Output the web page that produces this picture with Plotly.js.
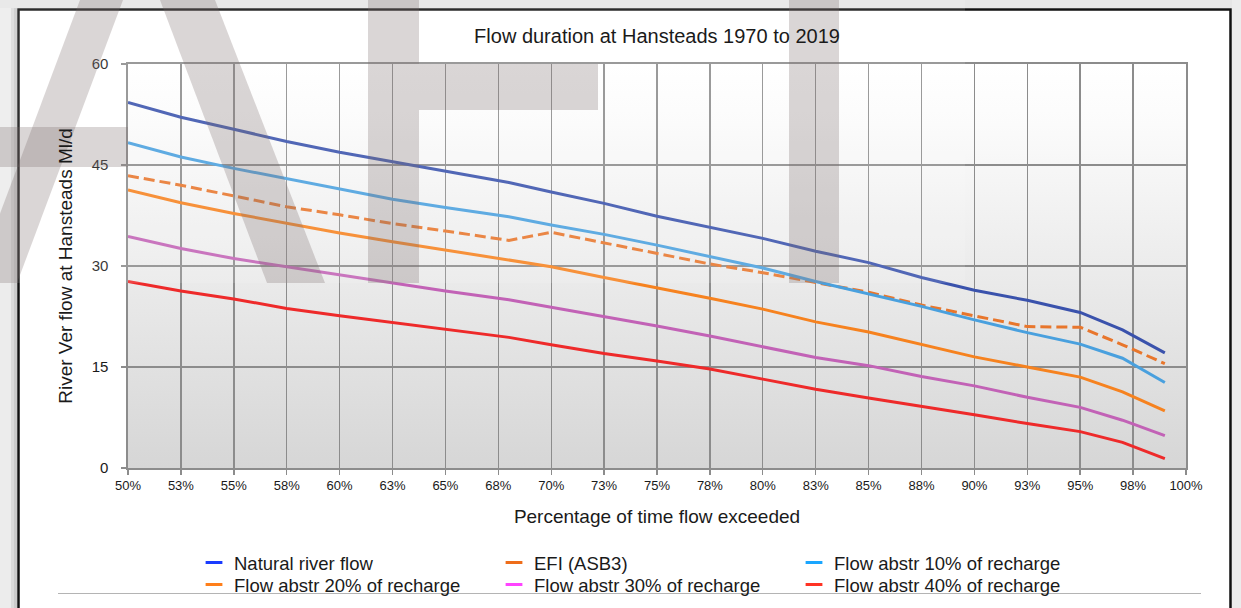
<!DOCTYPE html>
<html>
<head>
<meta charset="utf-8">
<script src="https://cdn.plot.ly/plotly-3.0.1.min.js"></script>
<style>
  html, body { margin: 0; padding: 0; background: #ececec; }
  #chart { width: 1241px; height: 608px; }
</style>
</head>
<body>
<div id="chart"></div>
<script>
// Percentage of time flow exceeded (x) and flows in Ml/d for each scenario
const pctExceeded = [50, 52.5, 55, 57.5, 60, 62.5, 65, 68, 70, 72.5, 75, 77.5, 80, 82.5, 85, 87.5, 90, 92.5, 95, 97, 99];
const naturalFlow = [54.3, 52.1, 50.3, 48.5, 46.9, 45.5, 44.0, 42.4, 41.0, 39.3, 37.4, 35.8, 34.1, 32.2, 30.5, 28.3, 26.4, 24.9, 23.1, 20.5, 17.1];
const efiAsb3     = [43.4, 42.0, 40.4, 38.8, 37.6, 36.3, 35.2, 33.8, 35.0, 33.4, 31.9, 30.3, 29.0, 27.5, 26.1, 24.2, 22.6, 21.0, 20.9, 18.3, 15.5];
const abstr10     = [48.3, 46.2, 44.5, 43.0, 41.4, 39.9, 38.7, 37.3, 36.1, 34.7, 33.1, 31.4, 29.7, 27.7, 25.9, 24.0, 22.0, 20.1, 18.4, 16.3, 12.7];
const abstr20     = [41.3, 39.4, 37.8, 36.3, 34.9, 33.6, 32.4, 30.9, 29.9, 28.3, 26.8, 25.2, 23.6, 21.7, 20.2, 18.3, 16.5, 15.0, 13.5, 11.3, 8.5];
const abstr30     = [34.4, 32.6, 31.1, 29.9, 28.7, 27.5, 26.3, 25.0, 23.9, 22.5, 21.1, 19.6, 18.0, 16.4, 15.2, 13.6, 12.2, 10.5, 9.0, 7.1, 4.8];
const abstr40     = [27.7, 26.3, 25.1, 23.7, 22.6, 21.6, 20.6, 19.4, 18.3, 17.0, 15.9, 14.7, 13.2, 11.7, 10.4, 9.2, 7.9, 6.6, 5.4, 3.8, 1.4];

// Axis ticks
const xTickValues = [50, 52.5, 55, 57.5, 60, 62.5, 65, 67.5, 70, 72.5, 75, 77.5, 80, 82.5, 85, 87.5, 90, 92.5, 95, 97.5, 100];
const xTickLabels = ['50%', '53%', '55%', '58%', '60%', '63%', '65%', '68%', '70%', '73%', '75%', '78%', '80%', '83%', '85%', '88%', '90%', '93%', '95%', '98%', '100%'];
const yTickValues = [0, 15, 30, 45, 60];

const seriesNames = ['Natural river flow', 'EFI (ASB3)', 'Flow abstr 10% of recharge',
                     'Flow abstr 20% of recharge', 'Flow abstr 30% of recharge', 'Flow abstr 40% of recharge'];

// Figure geometry (pixels)
const FIG_W = 1241, FIG_H = 608;
const M = { l: 128, r: 55, t: 64, b: 140 };
const PW = FIG_W - M.l - M.r, PH = FIG_H - M.t - M.b;
const fx = px => (px - M.l) / PW;
const fy = py => (M.t + PH - py) / PH;
const rect = (x0, y0, x1, y1, extra) => Object.assign({
  type: 'rect', xref: 'paper', yref: 'paper',
  x0: fx(x0), x1: fx(x1), y0: fy(y0), y1: fy(y1), line: { width: 0 }
}, extra);
const poly = (pts, extra) => Object.assign({
  type: 'path', xref: 'paper', yref: 'paper',
  path: 'M ' + pts.map(p => fx(p[0]) + ',' + fy(p[1])).join(' L ') + ' Z',
  line: { width: 0 }
}, extra);

const FONT = 'Liberation Sans, Arial, Helvetica, sans-serif';

// Plot lines and their (brighter) legend keys
const plotStyles = [
  { y: naturalFlow, color: '#3a52ac', dash: 'solid' },
  { y: efiAsb3,     color: '#e8762c', dash: '11px,5px' },
  { y: abstr10,     color: '#49a0de', dash: 'solid' },
  { y: abstr20,     color: '#f6821f', dash: 'solid' },
  { y: abstr30,     color: '#c262b6', dash: 'solid' },
  { y: abstr40,     color: '#ee2a2a', dash: 'solid' }
];
const legendColors = ['#1a3cff', '#ee6d1a', '#1aa6ff', '#ff7f1a', '#ff44ff', '#ff3324'];

const traces = [];
plotStyles.forEach((s, i) => {
  traces.push({
    type: 'scatter', mode: 'lines', x: pctExceeded, y: s.y, name: seriesNames[i],
    showlegend: false, hoverinfo: 'x+y+name',
    line: { color: s.color, width: 3, dash: s.dash }
  });
});
// legend keys: first three names on the upper row, last three on the lower row
seriesNames.forEach((name, i) => {
  traces.push({
    type: 'scatter', mode: 'markers', x: [null], y: [null], name: name,
    showlegend: true, legend: i < 3 ? 'legend' : 'legend2',
    marker: { symbol: 'line-ew-open', size: 12, color: legendColors[i], line: { width: 3, color: legendColors[i] } }
  });
});

// Plot-area background gradient
const gradSvg = "<svg xmlns='http://www.w3.org/2000/svg' width='10' height='100' preserveAspectRatio='none'>" +
  "<defs><linearGradient id='g' x1='0' y1='0' x2='0' y2='1'>" +
  "<stop offset='0' stop-color='#ffffff'/><stop offset='0.15' stop-color='#fbfbfb'/><stop offset='1' stop-color='#d6d6d6'/>" +
  "</linearGradient></defs><rect width='10' height='100' fill='url(#g)'/></svg>";

const wmFill = 'rgba(120,105,105,0.27)';
const shapes = [
  // outer surround and frame
  rect(0, 0, 17, FIG_H, { fillcolor: '#ececec', layer: 'below' }),
  rect(0, 0, FIG_W, 8, { fillcolor: '#e6e6e6', layer: 'below' }),
  rect(1232, 0, FIG_W, FIG_H, { fillcolor: '#ececec', layer: 'below' }),
  rect(11, 8, 17, FIG_H, { fillcolor: 'rgba(0,0,0,0.07)', layer: 'below' }),
  rect(14, 8, 17, FIG_H, { fillcolor: 'rgba(0,0,0,0.07)', layer: 'below' }),
  rect(18.5, 9.5, 1230.5, FIG_H + 20, { fillcolor: 'rgba(0,0,0,0)', line: { color: '#111111', width: 2.5 }, layer: 'below' }),
  // rule under the legend
  { type: 'line', xref: 'paper', yref: 'paper', x0: fx(58), x1: fx(1201), y0: fy(593.5), y1: fy(593.5),
    line: { color: '#b4b4b4', width: 1 } },
  // faint watermark
  rect(0, 0, 965, 283, { fillcolor: 'rgba(255,255,255,0.12)' }),
  poly([[80, 0], [123, 0], [17, 283], [-26, 283]], { fillcolor: wmFill }),
  poly([[160, 0], [215, 0], [325, 283], [267, 283]], { fillcolor: wmFill }),
  rect(0, 127, 128, 167, { fillcolor: wmFill }),
  rect(368, 0, 419, 283, { fillcolor: wmFill }),
  rect(419, 64, 598, 110, { fillcolor: wmFill }),
  rect(789, 0, 839, 283, { fillcolor: wmFill })
];

const gridColor = '#8c8c8c';
const legendBase = {
  orientation: 'h', x: fx(194), xanchor: 'left', yanchor: 'middle',
  entrywidth: 255, entrywidthmode: 'pixels',
  font: { family: FONT, size: 18.5, color: '#1a1a1a' },
  bgcolor: 'rgba(0,0,0,0)', borderwidth: 0, tracegroupgap: 0
};
const layout = {
  width: FIG_W, height: FIG_H,
  margin: Object.assign({ autoexpand: false }, M),
  paper_bgcolor: '#ffffff',
  plot_bgcolor: 'rgba(0,0,0,0)',
  font: { family: FONT, color: '#1a1a1a' },
  title: {
    text: 'Flow duration at Hansteads 1970 to 2019',
    font: { family: FONT, size: 20, color: '#1a1a1a' },
    x: 0.5, xref: 'paper', xanchor: 'center',
    y: 1 - 36 / FIG_H, yref: 'container', yanchor: 'middle'
  },
  xaxis: {
    range: [50, 100], tickmode: 'array', tickvals: xTickValues, ticktext: xTickLabels,
    showgrid: true, gridcolor: gridColor, gridwidth: 1.4, zeroline: false,
    showline: true, linecolor: gridColor, linewidth: 1.6, mirror: true,
    ticks: 'outside', ticklen: 5, tickcolor: gridColor, tickwidth: 1.4,
    tickfont: { family: FONT, size: 13, color: '#1a1a1a' },
    automargin: false,
    title: { text: 'Percentage of time flow exceeded', font: { family: FONT, size: 19, color: '#1a1a1a' }, standoff: 17 }
  },
  yaxis: {
    range: [0, 60], tickmode: 'array', tickvals: yTickValues,
    showgrid: true, gridcolor: gridColor, gridwidth: 1.4, zeroline: false,
    showline: true, linecolor: gridColor, linewidth: 1.6, mirror: true,
    ticks: 'outside', ticklen: 5, tickcolor: gridColor, tickwidth: 1.4,
    ticklabelstandoff: 10,
    tickfont: { family: FONT, size: 15, color: '#1a1a1a' },
    automargin: false,
    title: { text: 'River Ver flow at Hansteads Ml/d', font: { family: FONT, size: 19, color: '#1a1a1a' }, standoff: 14 }
  },
  legend: Object.assign({}, legendBase, { y: fy(563) }),
  legend2: Object.assign({}, legendBase, { y: fy(585) }),
  images: [{
    source: 'data:image/svg+xml;charset=utf-8,' + encodeURIComponent(gradSvg),
    xref: 'paper', yref: 'paper', x: 0, y: 1, sizex: 1, sizey: 1,
    xanchor: 'left', yanchor: 'top', sizing: 'stretch', layer: 'below'
  }],
  shapes: shapes,
  showlegend: true
};

Plotly.newPlot('chart', traces, layout, { displayModeBar: false, staticPlot: true });
</script>
</body>
</html>
